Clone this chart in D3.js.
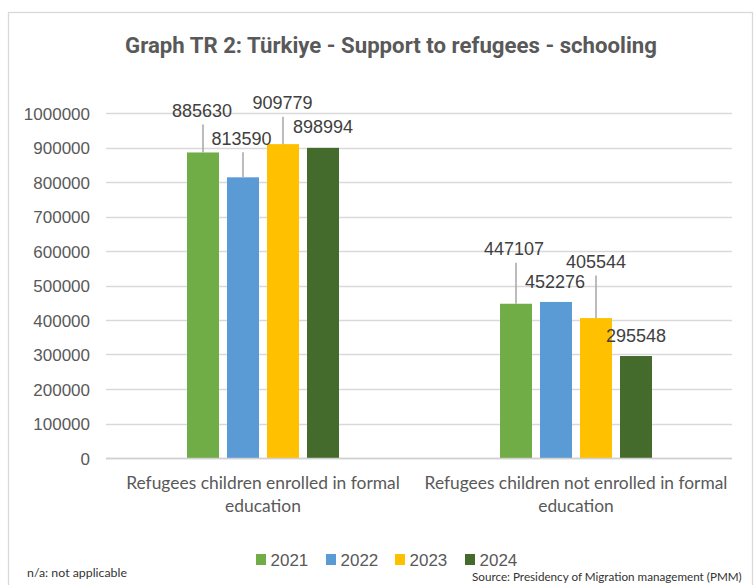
<!DOCTYPE html>
<html>
<head>
<meta charset="utf-8">
<script src="https://cdn.jsdelivr.net/npm/d3@7"></script>
<style>
  html, body { margin: 0; padding: 0; background: #ffffff; }
  svg { display: block; }
</style>
</head>
<body>
<svg id="chart" width="755" height="585"></svg>
<script>
// ---------- DATA ----------
const title = "Graph TR 2: Türkiye - Support to refugees - schooling";
const categories = [
  "Refugees children enrolled in formal education",
  "Refugees children not enrolled in formal education"
];
const years = ["2021", "2022", "2023", "2024"];
const values2021 = [885630, 447107];
const values2022 = [813590, 452276];
const values2023 = [909779, 405544];
const values2024 = [898994, 295548];
const yTickValues = [0, 100000, 200000, 300000, 400000, 500000, 600000, 700000, 800000, 900000, 1000000];
const noteText = "n/a: not applicable";
const sourceText = "Source: Presidency of Migration management (PMM)";

// ---------- STYLE / LAYOUT ----------
const colors = { "2021": "#70ad47", "2022": "#5b9bd5", "2023": "#ffc000", "2024": "#446a2c" };
// manual data-label offsets (px) relative to bar top centre: [dx, dy of label centre]
const labelOffsets = {
  "2021": [[-1, -42], [-2, -55]],
  "2022": [[-1.5, -39], [-1, -20.5]],
  "2023": [[-0.5, -41.5], [0, -56.5]],
  "2024": [[0, -21], [0, -20.5]]
};

const series = years.map((yr, i) => ({
  year: yr,
  values: [values2021, values2022, values2023, values2024][i]
}));

const svg = d3.select("#chart");
const W = 755, H = 585;
svg.append("rect").attr("x", 0).attr("y", 0).attr("width", W).attr("height", H).attr("fill", "#fff");
// outer frame
svg.append("rect").attr("x", 8.5).attr("y", 12.5).attr("width", 744).attr("height", 600)
  .attr("fill", "#fff").attr("stroke", "#d9d9d9").attr("stroke-width", 1.3);

const plot = { left: 106.5, right: 732.5, top: 113, bottom: 458 };

const y = d3.scaleLinear().domain([0, 1000000]).range([plot.bottom, plot.top]);
const x0 = d3.scaleBand().domain(categories).range([plot.left, plot.right]).padding(0);
const bw = x0.bandwidth();
const x1 = d3.scaleBand().domain(years).range([bw / 2 - 80, bw / 2 + 80]).paddingInner(0.2).paddingOuter(0.1);

function fitFont(sel, targetWidth, baseSize) {
  const len = sel.node().getComputedTextLength();
  const size = baseSize * targetWidth / len;
  sel.attr("font-size", size);
  return size;
}

// title
const t = svg.append("text")
  .attr("x", 391).attr("y", 53)
  .attr("text-anchor", "middle")
  .attr("font-family", "Roboto, 'Liberation Sans', sans-serif")
  .attr("font-weight", 700)
  .attr("font-size", 20)
  .attr("fill", "#595959")
  .text(title);
fitFont(t, 532, 20);

// gridlines
const grid = svg.append("g");
grid.selectAll("line").data(yTickValues).join("line")
  .attr("x1", plot.left - 0.5).attr("x2", plot.right - 0.5)
  .attr("y1", d => Math.round(y(d)) + 0.5).attr("y2", d => Math.round(y(d)) + 0.5)
  .attr("stroke", "#d9d9d9").attr("stroke-width", 1.5);

// y axis labels using d3 axis
const yAxis = d3.axisLeft(y).tickValues(yTickValues).tickFormat(d3.format("d")).tickSize(0).tickPadding(0);
const yg = svg.append("g").attr("transform", `translate(90,0)`).call(yAxis);
yg.select(".domain").remove();
yg.selectAll("text")
  .attr("font-family", "'Liberation Sans', Arial, sans-serif")
  .attr("font-size", 17)
  .attr("fill", "#595959")
  .attr("dy", "0.36em");

// bars
const groups = svg.append("g").selectAll("g").data(series).join("g")
  .attr("fill", d => colors[d.year]);
groups.selectAll("rect")
  .data(d => d.values.map((v, ci) => ({ year: d.year, cat: categories[ci], ci, v })))
  .join("rect")
  .attr("x", d => x0(d.cat) + x1(d.year))
  .attr("width", x1.bandwidth())
  .attr("y", d => y(d.v))
  .attr("height", d => y(0) - y(d.v));

// baseline axis
svg.append("line").attr("x1", plot.left - 0.5).attr("x2", plot.right - 0.5)
  .attr("y1", Math.round(y(0)) + 0.5).attr("y2", Math.round(y(0)) + 0.5)
  .attr("stroke", "#d0d0d0").attr("stroke-width", 1.5);

// data labels + leader lines
const labelData = [];
series.forEach(s => s.values.forEach((v, ci) => {
  const cx = x0(categories[ci]) + x1(s.year) + x1.bandwidth() / 2;
  const top = y(v);
  const [dx, dy] = labelOffsets[s.year][ci];
  labelData.push({ v, cx, top, lx: cx + dx, ly: top + dy, leader: dy < -30 });
}));
svg.append("g").selectAll("line").data(labelData.filter(d => d.leader)).join("line")
  .attr("x1", d => d.cx).attr("x2", d => d.cx)
  .attr("y1", d => d.ly + 14).attr("y2", d => d.top)
  .attr("stroke", "#a6a6a6").attr("stroke-width", 1.5);
svg.append("g").selectAll("text").data(labelData).join("text")
  .attr("x", d => d.lx).attr("y", d => d.ly)
  .attr("dy", "0.36em")
  .attr("text-anchor", "middle")
  .attr("font-family", "'Liberation Sans', Arial, sans-serif")
  .attr("font-size", 18)
  .attr("fill", "#404040")
  .text(d => d3.format("d")(d.v));

// category labels (x axis)
const xAxisG = svg.append("g");
categories.forEach((c, i) => {
  const idx = c.lastIndexOf(" ");
  const lines = [c.slice(0, idx), c.slice(idx + 1)];
  const cx = x0(c) + bw / 2;
  const tx = xAxisG.append("text")
    .attr("x", cx).attr("y", 489)
    .attr("text-anchor", "middle")
    .attr("font-family", "Lato, 'Open Sans', sans-serif")
    .attr("font-size", 16)
    .attr("fill", "#595959")
    .text(lines[0]);
  const size = fitFont(tx, i === 0 ? 274 : 303, 16);
  xAxisG.append("text")
    .attr("x", cx).attr("y", 512)
    .attr("text-anchor", "middle")
    .attr("font-family", "Lato, 'Open Sans', sans-serif")
    .attr("font-size", size)
    .attr("fill", "#595959")
    .text(lines[1]);
});

// legend
const legendX = [256, 326, 395, 465];
const leg = svg.append("g").selectAll("g").data(years).join("g")
  .attr("transform", (d, i) => `translate(${legendX[i]},554)`);
leg.append("rect").attr("width", 10).attr("height", 11).attr("fill", d => colors[d]);
leg.append("text").attr("x", 14.5).attr("y", 5.5).attr("dy", "0.36em")
  .attr("font-family", "'Liberation Sans', Arial, sans-serif")
  .attr("font-size", 17)
  .attr("fill", "#595959")
  .text(d => d);

// note + source
const note = svg.append("text").attr("x", 27).attr("y", 577)
  .attr("font-family", "Lato, 'Open Sans', sans-serif")
  .attr("font-size", 12).attr("fill", "#333333").text(noteText);
fitFont(note, 100, 12);
const src = svg.append("text").attr("x", 472).attr("y", 580.5)
  .attr("font-family", "Lato, 'Open Sans', sans-serif")
  .attr("font-size", 12).attr("fill", "#333333").text(sourceText);
fitFont(src, 270, 12);
</script>
</body>
</html>
